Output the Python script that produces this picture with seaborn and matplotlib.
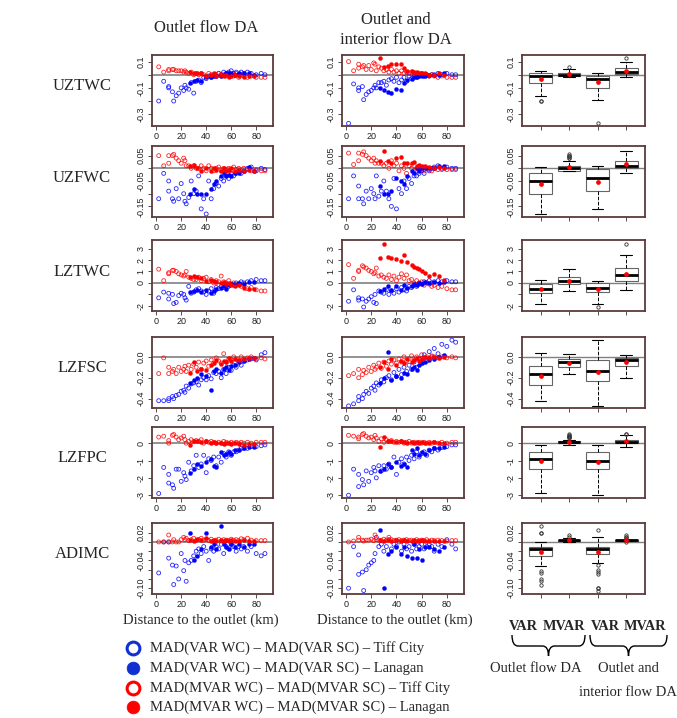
import numpy as np
import pandas as pd
import matplotlib
matplotlib.use("Agg")
import matplotlib.pyplot as plt
import seaborn as sns
from matplotlib.lines import Line2D
from matplotlib.path import Path
from matplotlib.patches import PathPatch

# ---------------- data ----------------
dist_tc = [2, 6, 10, 10, 13, 14, 16, 18, 20, 22,
           23, 24, 26, 28, 30, 32, 34, 36, 38, 40,
           42, 44, 46, 48, 50, 52, 54, 56, 58, 60,
           62, 64, 66, 68, 70, 73, 76, 80, 84, 87]
dist_lan = [27, 30, 33, 36, 40, 44, 46, 48, 52, 54, 56, 58, 60, 63, 66, 70, 74, 78]

row_labels = ["UZTWC", "UZFWC", "LZTWC", "LZFSC", "LZFPC", "ADIMC"]

# UZTWC
uztwc_out_var_tc = [-0.20, -0.05, -0.09, -0.10, -0.13, -0.20, -0.16, -0.14, -0.10, -0.12,
                    -0.08, -0.10, -0.11, -0.06, -0.14, -0.05, -0.04, -0.06, -0.02, -0.03,
                    -0.01, -0.02, 0.00, -0.01, 0.01, 0.00, 0.02, 0.01, 0.02, 0.03,
                    0.01, 0.02, 0.00, 0.02, 0.01, 0.02, 0.01, 0.00, 0.01, 0.00]
uztwc_out_var_lan = [-0.06, -0.05, -0.04, -0.05, -0.02, -0.02, -0.01, -0.01, -0.01, 0.00,
                     0.01, 0.01, 0.01, 0.00, 0.01, 0.01, 0.01, 0.00]
uztwc_out_mvar_tc = [0.06, 0.02, 0.03, 0.04, 0.04, 0.04, 0.03, 0.03, 0.03, 0.02,
                     0.03, 0.02, 0.01, 0.02, 0.00, 0.01, 0.00, 0.01, 0.00, -0.01,
                     0.01, 0.00, -0.01, 0.00, 0.01, -0.01, 0.00, -0.01, 0.01, 0.00,
                     -0.01, 0.01, -0.02, 0.00, -0.01, -0.02, -0.01, -0.02, -0.02, -0.02]
uztwc_out_mvar_lan = [0.02, 0.01, 0.01, 0.01, -0.01, 0.00, 0.01, -0.01, 0.00, -0.01,
                      0.00, -0.02, -0.01, 0.00, -0.01, -0.02, -0.01, -0.01]
uztwc_int_var_tc = [-0.37, -0.07, -0.10, -0.12, -0.09, -0.19, -0.15, -0.13, -0.12, -0.10,
                    -0.08, -0.10, -0.06, -0.06, -0.05, -0.08, -0.04, -0.03, -0.05, -0.02,
                    -0.06, -0.04, -0.02, -0.05, -0.01, -0.03, -0.01, -0.02, -0.01, 0.00,
                    -0.01, 0.00, -0.01, 0.00, 0.00, 0.01, 0.00, 0.01, 0.00, 0.00]
uztwc_int_var_lan = [-0.10, -0.12, -0.13, -0.14, -0.11, -0.12, -0.06, -0.04, -0.03, -0.02,
                     -0.02, -0.01, -0.01, -0.01, 0.00, 0.00, 0.00, 0.01]
uztwc_int_mvar_tc = [0.10, 0.03, 0.08, 0.05, 0.06, 0.07, 0.04, 0.07, 0.04, 0.09,
                     0.08, 0.03, 0.06, 0.05, 0.03, 0.04, 0.02, 0.04, 0.02, 0.03,
                     0.01, 0.03, 0.01, 0.02, 0.01, 0.02, 0.00, 0.01, 0.00, 0.01,
                     -0.01, 0.00, -0.01, 0.00, -0.01, -0.02, -0.01, -0.02, -0.02, -0.02]
uztwc_int_mvar_lan = [0.13, 0.06, 0.07, 0.08, 0.08, 0.08, 0.05, 0.03, 0.03, 0.02,
                      0.02, 0.01, 0.01, 0.01, 0.00, 0.00, 0.01, 0.00]

# UZFWC
uzfwc_out_var_tc = [-0.12, -0.02, -0.05, -0.09, -0.12, -0.13, -0.08, -0.12, -0.06, -0.10,
                    -0.13, -0.14, -0.115, -0.05, -0.10, -0.09, -0.03, -0.16, -0.12, -0.18,
                    -0.05, -0.12, -0.08, -0.06, -0.07, -0.04, -0.05, -0.03, -0.04, -0.02,
                    -0.03, -0.02, -0.01, -0.02, -0.01, 0.00, 0.005, -0.01, 0.00, -0.005]
uzfwc_out_var_lan = [-0.10, -0.08, -0.10, -0.10, -0.10, -0.08, -0.06, -0.05, -0.03, -0.02,
                     -0.03, -0.025, -0.03, -0.02, -0.02, -0.01, 0.005, -0.01]
uzfwc_out_mvar_tc = [0.05, 0.01, 0.05, 0.02, 0.05, 0.055, 0.04, 0.03, 0.02, 0.04,
                     0.03, 0.01, 0.01, 0.00, 0.01, 0.00, 0.00, 0.01, 0.00, -0.01,
                     0.01, 0.00, -0.01, 0.00, 0.005, -0.01, 0.00, -0.005, 0.00, -0.01,
                     0.005, -0.005, 0.00, -0.01, 0.00, -0.005, -0.01, -0.005, -0.01, -0.01]
uzfwc_out_mvar_lan = [0.01, 0.015, 0.00, -0.01, 0.00, -0.01, 0.00, -0.005, -0.01, 0.00,
                      -0.01, -0.005, 0.00, -0.01, -0.005, -0.01, -0.005, -0.01]
uzfwc_int_var_tc = [-0.12, -0.03, -0.07, -0.12, -0.12, -0.14, -0.09, -0.12, -0.08, -0.10,
                    -0.12, -0.03, -0.11, -0.09, -0.05, -0.09, -0.12, -0.15, -0.04, -0.16,
                    -0.08, -0.10, -0.05, -0.08, -0.04, -0.06, -0.03, -0.03, -0.02, -0.01,
                    -0.02, 0.00, -0.01, 0.00, 0.005, 0.01, 0.00, 0.005, 0.00, 0.00]
uzfwc_int_var_lan = [-0.07, -0.10, -0.10, -0.09, -0.04, -0.05, -0.06, -0.03, -0.01, -0.02,
                     0.00, -0.01, 0.00, 0.00, 0.00, 0.00, 0.01, 0.01]
uzfwc_int_mvar_tc = [0.06, 0.015, 0.06, 0.03, 0.055, 0.065, 0.05, 0.04, 0.03, 0.04,
                     0.02, 0.03, 0.02, 0.02, 0.01, 0.02, 0.00, 0.03, 0.01, 0.02,
                     -0.01, 0.01, 0.00, -0.02, 0.01, 0.00, -0.01, 0.00, -0.005, 0.00,
                     -0.01, 0.00, -0.005, -0.01, 0.00, -0.005, -0.005, -0.005, -0.005, -0.005]
uzfwc_int_mvar_lan = [0.03, 0.07, 0.03, 0.02, 0.04, 0.045, 0.02, 0.02, 0.02, 0.025,
                      0.01, 0.015, 0.01, 0.01, 0.005, 0.00, 0.005, 0.00]

# LZTWC
lztwc_out_var_tc = [-1.3, -0.8, -0.9, -1.4, -1.0, -1.8, -1.7, -1.1, -0.9, -1.0,
                    -1.3, -1.5, -0.3, -0.9, -0.8, -0.6, -0.5, -0.7, -0.8, -1.0,
                    -0.7, -0.5, -0.9, -0.4, -0.5, -0.3, -0.4, -0.2, -0.3, -0.1,
                    -0.2, 0.0, -0.1, 0.1, 0.0, 0.1, 0.2, 0.3, 0.2, 0.2]
lztwc_out_var_lan = [-0.8, -0.7, -0.6, -0.8, -0.6, -0.9, -0.7, -0.5, -0.4, -0.3,
                     -0.5, -0.2, -0.1, -0.2, 0.0, -0.1, 0.1, 0.1]
lztwc_out_mvar_tc = [1.2, 0.2, 0.9, 0.8, 1.1, 1.1, 1.0, 0.8, 0.7, 0.6,
                     0.7, 1.0, 0.5, 0.4, 0.3, 0.3, 0.5, 0.2, 0.4, 0.5,
                     0.1, 0.3, 0.0, 0.2, 0.1, 0.6, 0.1, 0.0, 0.2, -0.1,
                     0.0, -0.2, -0.1, -0.3, -0.2, -0.5, -0.4, -0.6, -0.7, -0.7]
lztwc_out_mvar_lan = [0.5, 0.6, 0.5, 0.4, 0.2, 0.3, 0.2, 0.1, 0.0, 0.1,
                      -0.1, 0.0, -0.2, -0.3, -0.2, -0.4, -0.5, -0.5]
lztwc_int_var_tc = [-1.6, -0.6, -1.3, -1.5, -1.4, -2.1, -1.6, -1.4, -1.2, -1.7,
                    -1.0, -1.8, -0.7, -0.8, -0.9, -0.6, -1.0, -0.7, -0.9, -0.5,
                    -0.8, -0.4, -0.6, -0.7, -0.3, -0.4, -0.2, -0.3, 0.0, -0.1,
                    0.1, 0.0, 0.2, 0.0, 0.1, 0.2, 0.1, 0.2, 0.1, 0.1]
lztwc_int_var_lan = [-0.7, -0.5, -0.3, -0.6, -0.3, -0.6, -0.2, -0.4, -0.3, -0.1,
                     -0.2, 0.0, -0.1, 0.1, 0.0, 0.1, 0.0, 0.1]
lztwc_int_mvar_tc = [1.6, 0.4, 1.1, 1.0, 1.5, 1.4, 1.3, 1.1, 1.0, 0.8,
                     0.9, 1.3, 0.6, 0.7, 0.5, 0.4, 0.7, 0.3, 0.6, 0.2,
                     0.5, 0.8, 0.4, 0.7, 0.2, 0.3, 0.0, 0.2, -0.1, 0.1,
                     -0.2, 0.0, -0.1, -0.3, -0.2, -0.4, -0.3, -0.5, -0.6, -0.6]
lztwc_int_mvar_lan = [2.2, 3.4, 2.3, 2.2, 2.1, 1.9, 2.4, 1.8, 1.6, 1.4,
                      1.3, 1.2, 1.0, 0.9, 0.6, 0.8, 0.6, 0.3]

# LZFSC
lzfsc_out_var_tc = [-0.42, -0.42, -0.42, -0.40, -0.38, -0.40, -0.37, -0.36, -0.33, -0.32,
                    -0.34, -0.28, -0.30, -0.26, -0.25, -0.24, -0.27, -0.22, -0.20, -0.22,
                    -0.18, -0.21, -0.15, -0.16, -0.14, -0.20, -0.12, -0.16, -0.10, -0.13,
                    -0.08, -0.10, -0.06, -0.08, -0.04, -0.03, -0.02, -0.03, 0.02, 0.04]
lzfsc_out_var_lan = [-0.25, -0.22, -0.20, -0.16, -0.18, -0.32, -0.14, -0.12, -0.15, -0.12,
                     -0.10, -0.13, -0.09, -0.08, -0.05, -0.04, -0.02, -0.01]
lzfsc_out_mvar_tc = [-0.16, -0.01, -0.16, -0.10, -0.14, -0.12, -0.16, -0.10, -0.14, -0.12,
                     -0.09, -0.14, -0.08, -0.12, -0.07, -0.10, -0.05, -0.12, -0.06, -0.04,
                     -0.09, -0.03, -0.06, -0.01, -0.04, -0.06, 0.03, -0.05, -0.02, -0.03,
                     0.00, -0.02, -0.04, 0.00, -0.02, -0.01, 0.00, -0.02, -0.01, -0.02]
lzfsc_out_mvar_lan = [-0.15, -0.05, -0.14, -0.12, -0.13, -0.08, -0.06, -0.03, -0.07, -0.04,
                      -0.05, -0.01, -0.04, -0.02, -0.03, -0.02, -0.01, -0.01]
lzfsc_int_var_tc = [-0.47, -0.45, -0.42, -0.38, -0.40, -0.36, -0.33, -0.35, -0.30, -0.28,
                    -0.32, -0.25, -0.27, -0.22, -0.24, -0.20, -0.18, -0.22, -0.15, -0.19,
                    -0.12, -0.17, -0.10, -0.14, -0.08, -0.12, -0.05, -0.10, -0.02, -0.06,
                    0.02, -0.04, 0.05, 0.00, 0.08, 0.03, 0.12, 0.10, 0.16, 0.14]
lzfsc_int_var_lan = [-0.25, -0.20, 0.05, -0.22, -0.18, -0.20, -0.15, -0.16, -0.12, -0.10,
                     -0.13, -0.08, -0.06, -0.05, -0.03, -0.02, 0.00, 0.02]
lzfsc_int_mvar_tc = [-0.18, -0.16, -0.20, -0.12, -0.17, -0.13, -0.15, -0.10, -0.14, -0.08,
                     -0.12, -0.10, -0.06, -0.11, -0.05, -0.09, -0.04, -0.07, -0.03, -0.06,
                     -0.02, -0.05, 0.00, -0.04, -0.02, 0.01, -0.03, 0.00, -0.02, 0.02,
                     -0.01, 0.00, -0.02, 0.01, 0.00, -0.01, 0.00, -0.01, 0.00, -0.01]
lzfsc_int_mvar_lan = [-0.10, -0.05, -0.12, -0.02, -0.08, -0.04, -0.06, -0.02, -0.05, -0.03,
                      -0.01, -0.04, -0.02, 0.00, -0.01, 0.00, -0.01, 0.00]

# LZFPC
lzfpc_out_var_tc = [-2.9, -1.4, -1.8, -2.3, -2.4, -2.6, -1.5, -1.5, -2.2, -1.7,
                    -1.9, -2.1, -1.1, -1.6, -1.3, -0.7, -1.4, -1.2, -0.7, -1.7,
                    -0.9, -1.0, -0.8, -1.3, -0.8, -1.1, -0.6, -0.8, -0.5, -0.7,
                    -0.5, -0.5, -0.4, -0.3, -0.3, -0.3, -0.2, -0.2, -0.15, -0.1]
lzfpc_out_var_lan = [-1.7, -1.5, -1.2, -1.3, -1.1, -0.9, -1.3, -1.4, -0.5, -0.7,
                     -0.6, -0.5, -0.6, -0.4, -0.4, -0.3, -0.2, -0.2]
lzfpc_out_mvar_tc = [0.35, 0.4, 0.15, 0.0, 0.45, 0.5, 0.35, 0.2, 0.3, 0.4,
                     0.2, 0.0, 0.1, 0.2, 0.1, 0.15, 0.1, 0.2, 0.0, 0.1,
                     0.05, 0.1, 0.05, 0.0, 0.05, 0.0, 0.1, 0.05, 0.0, 0.05,
                     0.0, 0.05, 0.0, 0.05, 0.0, 0.05, 0.0, 0.05, 0.05, 0.05]
lzfpc_out_mvar_lan = [-0.1, 0.1, 0.15, 0.05, 0.1, 0.0, 0.05, 0.0, 0.0, -0.05,
                      0.0, 0.0, -0.05, 0.0, -0.05, -0.1, -0.05, -0.05]
lzfpc_int_var_tc = [-3.0, -1.5, -1.8, -2.5, -2.1, -2.4, -1.6, -2.2, -1.7, -1.4,
                    -1.6, -2.0, -1.3, -1.6, -1.3, -1.5, -1.2, -1.4, -0.8, -1.8,
                    -1.1, -0.9, -1.2, -0.8, -1.0, -0.7, -0.9, -0.5, -0.8, -0.6,
                    -0.5, -0.7, -0.4, -0.5, -0.3, -0.4, -0.25, -0.2, -0.1, -0.1]
lzfpc_int_var_lan = [-1.6, -1.5, -1.2, -1.4, -1.1, -1.3, -1.2, -1.4, -0.4, -0.6,
                     -0.3, -0.7, -0.5, -0.6, -0.4, -0.3, -0.3, -0.2]
lzfpc_int_mvar_tc = [0.45, 0.4, 0.35, 0.25, 0.5, 0.55, 0.4, 0.3, 0.35, 0.2,
                     0.45, 0.3, 0.1, 0.25, 0.05, 0.2, 0.1, 0.15, 0.05, 0.1,
                     0.05, 0.1, 0.0, 0.05, 0.1, 0.0, 0.05, 0.0, 0.05, 0.0,
                     0.05, 0.0, 0.05, 0.0, 0.05, 0.0, 0.05, 0.0, 0.05, 0.05]
lzfpc_int_mvar_lan = [-0.2, 0.35, 0.1, 0.15, 0.05, 0.1, 0.05, 0.0, 0.05, 0.0,
                      0.05, 0.0, 0.05, 0.0, 0.0, 0.05, 0.0, 0.0]

# ADIMC
adimc_out_var_tc = [-0.067, 0.0, -0.035, 0.0, -0.05, -0.092, -0.052, -0.08, -0.025, -0.062,
                    -0.04, -0.085, -0.045, -0.04, -0.03, -0.02, -0.015, -0.025, -0.01, -0.02,
                    -0.04, -0.015, -0.02, -0.01, -0.015, -0.005, -0.025, -0.01, -0.015, -0.005,
                    -0.01, -0.02, -0.01, -0.015, -0.01, -0.02, -0.01, -0.025, -0.03, -0.025]
adimc_out_var_lan = [0.02, -0.04, -0.03, -0.015, 0.02, -0.01, -0.005, -0.015, 0.035, -0.005,
                     -0.01, -0.015, -0.005, -0.01, -0.005, -0.01, -0.005, -0.005]
adimc_out_mvar_tc = [0.0, 0.0, 0.0, 0.015, 0.0, 0.005, 0.0, 0.0, 0.005, 0.01,
                     0.005, 0.008, 0.003, 0.005, 0.008, 0.003, 0.005, 0.008, 0.004, 0.005,
                     0.003, 0.006, 0.002, 0.004, 0.006, 0.002, 0.005, 0.004, 0.003, 0.006,
                     0.004, 0.005, 0.003, 0.007, 0.005, 0.008, 0.004, 0.003, 0.003, 0.003]
adimc_out_mvar_lan = [0.005, 0.003, 0.006, 0.004, 0.008, 0.002, 0.004, 0.003, 0.005, 0.002,
                      0.004, 0.003, 0.005, 0.002, 0.003, 0.004, 0.002, 0.003]
adimc_int_var_tc = [-0.10, -0.01, -0.028, -0.07, -0.065, -0.105, -0.06, -0.05, -0.045, -0.04,
                    -0.025, 0.01, -0.01, -0.005, -0.02, -0.01, 0.005, -0.015, -0.005, -0.01,
                    0.0, -0.02, -0.005, -0.015, -0.01, -0.02, -0.005, -0.015, -0.01, -0.005,
                    -0.015, -0.01, -0.005, -0.01, -0.02, -0.005, -0.01, 0.005, -0.005, -0.015]
adimc_int_var_lan = [0.025, -0.10, -0.025, -0.02, -0.01, -0.025, -0.01, -0.03, -0.035, -0.005,
                     -0.035, -0.015, -0.04, -0.01, -0.01, -0.015, -0.02, -0.01]
adimc_int_mvar_tc = [0.0, 0.002, 0.01, 0.004, 0.004, 0.002, 0.004, 0.004, 0.006, 0.003,
                     0.015, 0.005, 0.004, 0.003, 0.006, 0.004, 0.01, 0.005, 0.003, 0.004,
                     0.005, 0.003, 0.004, 0.005, 0.003, 0.004, 0.002, 0.005, 0.003, 0.004,
                     0.003, 0.005, 0.002, 0.004, 0.003, 0.004, 0.003, 0.002, 0.003, 0.003]
adimc_int_mvar_lan = [0.004, 0.003, 0.005, 0.002, 0.004, 0.003, 0.004, 0.002, 0.003, 0.004,
                      0.002, 0.003, 0.004, 0.002, 0.003, 0.003, 0.002, 0.003]

# y-axis settings per row: limits, tick values, tick labels
row_ylims = [(-0.39, 0.15), (-0.192, 0.088), (-2.45, 3.75), (-0.49, 0.19), (-3.16, 0.93), (-0.1125, 0.041)]
row_yticks = [[-0.3, -0.2, -0.1, 0.0, 0.1],
              [-0.15, -0.10, -0.05, 0.0, 0.05],
              [-2, -1, 0, 1, 2, 3],
              [-0.4, -0.2, 0.0],
              [-3, -2, -1, 0],
              [-0.10, -0.08, -0.06, -0.04, -0.02, 0.0, 0.02]]
row_yticklabels = [["-0.3", "", "-0.1", "", "0.1"],
                   ["-0.15", "", "-0.05", "", "0.05"],
                   ["-2", "", "0", "1", "2", "3"],
                   ["-0.4", "-0.2", "0.0"],
                   ["-3", "-2", "-1", "0"],
                   ["-0.10", "", "", "-0.04", "", "", "0.02"]]
x_ticks = [0, 20, 40, 60, 80]
box_groups = ["VAR outlet", "MVAR outlet", "VAR interior", "MVAR interior"]

rows = [
    (uztwc_out_var_tc, uztwc_out_var_lan, uztwc_out_mvar_tc, uztwc_out_mvar_lan,
     uztwc_int_var_tc, uztwc_int_var_lan, uztwc_int_mvar_tc, uztwc_int_mvar_lan),
    (uzfwc_out_var_tc, uzfwc_out_var_lan, uzfwc_out_mvar_tc, uzfwc_out_mvar_lan,
     uzfwc_int_var_tc, uzfwc_int_var_lan, uzfwc_int_mvar_tc, uzfwc_int_mvar_lan),
    (lztwc_out_var_tc, lztwc_out_var_lan, lztwc_out_mvar_tc, lztwc_out_mvar_lan,
     lztwc_int_var_tc, lztwc_int_var_lan, lztwc_int_mvar_tc, lztwc_int_mvar_lan),
    (lzfsc_out_var_tc, lzfsc_out_var_lan, lzfsc_out_mvar_tc, lzfsc_out_mvar_lan,
     lzfsc_int_var_tc, lzfsc_int_var_lan, lzfsc_int_mvar_tc, lzfsc_int_mvar_lan),
    (lzfpc_out_var_tc, lzfpc_out_var_lan, lzfpc_out_mvar_tc, lzfpc_out_mvar_lan,
     lzfpc_int_var_tc, lzfpc_int_var_lan, lzfpc_int_mvar_tc, lzfpc_int_mvar_lan),
    (adimc_out_var_tc, adimc_out_var_lan, adimc_out_mvar_tc, adimc_out_mvar_lan,
     adimc_int_var_tc, adimc_int_var_lan, adimc_int_mvar_tc, adimc_int_mvar_lan),
]

# ---------------- style ----------------
sns.set_theme(style="ticks")
plt.rcParams["font.family"] = ["Liberation Sans", "DejaVu Sans"]
SERIF = ["Liberation Serif", "DejaVu Serif"]
BLUE = "#0000ff"
RED = "#ff0000"
FRAME = "#5a3a3a"
ZERO = "#808080"

W, H = 677, 718
fig = plt.figure(figsize=(W / 100, H / 100), dpi=100)


def ax_px(left, top, width, height):
    return fig.add_axes([left / W, 1 - (top + height) / H, width / W, height / H])


def fx(x):
    return x / W


def fy(y):
    return 1 - y / H


col_left = [151.7, 341.5, 521.7]
col_width = [121.5, 122.5, 123.3]
row_top = [55, 146, 240, 337, 427, 523]
row_h = 71


def style_axes(ax, r):
    for s in ax.spines.values():
        s.set_color(FRAME)
        s.set_linewidth(1.3)
        s.set_visible(True)
    ax.set_ylim(*row_ylims[r])
    ax.set_yticks(row_yticks[r])
    ax.set_yticklabels(row_yticklabels[r], rotation=90, va="center")
    ax.tick_params(axis="both", direction="out", length=3, width=0.6, color="#333333",
                   labelsize=6.5, pad=1.5, labelcolor="#222222")
    ax.set_xlabel("")
    ax.set_ylabel("")


def scatter_panel(ax, r, var_tc, var_lan, mvar_tc, mvar_lan):
    ax.axhline(0, color=ZERO, lw=1.2, zorder=1)
    common = dict(ax=ax, marker="o", legend=False)
    sns.scatterplot(x=dist_tc, y=var_tc, s=8, facecolor="none", edgecolor=BLUE,
                    linewidth=0.6, alpha=0.85, zorder=2, **common)
    sns.scatterplot(x=dist_tc, y=mvar_tc, s=8, facecolor="none", edgecolor=RED,
                    linewidth=0.6, alpha=0.85, zorder=3, **common)
    sns.scatterplot(x=dist_lan, y=var_lan, s=9, facecolor=BLUE, edgecolor=BLUE,
                    linewidth=0.2, zorder=4, **common)
    sns.scatterplot(x=dist_lan, y=mvar_lan, s=9, facecolor=RED, edgecolor=RED,
                    linewidth=0.2, zorder=5, **common)
    ax.set_xlim(-3.6, 93.6)
    ax.set_xticks(x_ticks)
    ax.set_xticklabels([str(v) for v in x_ticks])
    style_axes(ax, r)


def box_panel(ax, r, data):
    (ov_tc, ov_lan, om_tc, om_lan, iv_tc, iv_lan, im_tc, im_lan) = data
    vals = [ov_tc + ov_lan, om_tc + om_lan, iv_tc + iv_lan, im_tc + im_lan]
    df = pd.DataFrame({
        "group": np.repeat(box_groups, [len(v) for v in vals]),
        "value": np.concatenate(vals),
    })
    ax.axhline(0, color=ZERO, lw=1.0, zorder=0)
    sns.boxplot(data=df, x="group", y="value", order=box_groups, ax=ax, width=0.8,
                color="white", linecolor="#666666", linewidth=0.8, saturation=1,
                showmeans=True,
                meanprops=dict(marker="o", markerfacecolor=RED, markeredgecolor=RED,
                               markersize=2.4),
                medianprops=dict(color="black", linewidth=2.0),
                whiskerprops=dict(color="black", linestyle="--", linewidth=0.7),
                capprops=dict(color="black", linewidth=0.8),
                flierprops=dict(marker="o", markerfacecolor="none", markeredgecolor="#333333",
                                markersize=2.4, markeredgewidth=0.6))
    ax.set_xlim(-0.66, 3.66)
    ax.set_xticks([0, 1, 2, 3])
    ax.set_xticklabels(["", "", "", ""])
    style_axes(ax, r)


for r, data in enumerate(rows):
    top = row_top[r]
    ax1 = ax_px(col_left[0], top, col_width[0], row_h)
    scatter_panel(ax1, r, data[0], data[1], data[2], data[3])
    ax2 = ax_px(col_left[1], top, col_width[1], row_h)
    scatter_panel(ax2, r, data[4], data[5], data[6], data[7])
    ax3 = ax_px(col_left[2], top, col_width[2], row_h)
    box_panel(ax3, r, data)
    fig.text(fx(82), fy(top + row_h / 2 - 4), row_labels[r], family=SERIF, fontsize=12,
             ha="center", va="center")

# column titles
fig.text(fx(206), fy(28), "Outlet flow DA", family=SERIF, fontsize=12, ha="center", va="center")
fig.text(fx(396), fy(30), "Outlet and\ninterior flow DA", family=SERIF, fontsize=12,
         ha="center", va="center", linespacing=1.25)

# x-axis labels
fig.text(fx(201), fy(620), "Distance to the outlet (km)", family=SERIF, fontsize=10.5,
         ha="center", va="center")
fig.text(fx(395), fy(620), "Distance to the outlet (km)", family=SERIF, fontsize=10.5,
         ha="center", va="center")

# legend
legend_items = [
    ("MAD(VAR WC) \u2013 MAD(VAR SC) \u2013 Tiff City", "#1030d0", False),
    ("MAD(VAR WC) \u2013 MAD(VAR SC) \u2013 Lanagan", "#1030d0", True),
    ("MAD(MVAR WC) \u2013 MAD(MVAR SC) \u2013 Tiff City", RED, False),
    ("MAD(MVAR WC) \u2013 MAD(MVAR SC) \u2013 Lanagan", RED, True),
]
for i, (txt, c, filled) in enumerate(legend_items):
    y = 648 + i * 19.8
    fig.add_artist(Line2D([fx(133)], [fy(y)], marker="o", markersize=9.2,
                          markerfacecolor=c if filled else "white", markeredgecolor=c,
                          markeredgewidth=2.2 if not filled else 0.5, transform=fig.transFigure))
    fig.text(fx(150), fy(y), txt, family=SERIF, fontsize=10.5, ha="left", va="center")

# VAR / MVAR labels under boxplots
for xc, t in zip([523, 564, 605, 645], ["VAR", "MVAR", "VAR", "MVAR"]):
    fig.text(fx(xc), fy(627), t, family=SERIF, fontsize=10.3, fontweight="bold",
             ha="center", va="center")


def brace(x0, x1, ytop, ymid, ytip):
    xc = (x0 + x1) / 2
    pts = [(x0, ytop), (x0, ymid), (x0 + 6, ymid),
           (xc - 6, ymid), (xc, ymid), (xc, ytip),
           (xc, ymid), (xc + 6, ymid),
           (x1 - 6, ymid), (x1, ymid), (x1, ytop)]
    codes = [Path.MOVETO, Path.CURVE3, Path.CURVE3,
             Path.LINETO, Path.CURVE3, Path.CURVE3,
             Path.CURVE3, Path.CURVE3,
             Path.LINETO, Path.CURVE3, Path.CURVE3]
    verts = [(fx(x), fy(y)) for x, y in pts]
    fig.add_artist(PathPatch(Path(verts, codes), facecolor="none", edgecolor="black",
                             lw=1.0, transform=fig.transFigure))


brace(512, 585, 635, 646, 656)
brace(590, 667, 635, 646, 656)

fig.text(fx(536), fy(668), "Outlet flow DA", family=SERIF, fontsize=10.5, ha="center", va="center")
fig.text(fx(628), fy(668), "Outlet and", family=SERIF, fontsize=10.5, ha="center", va="center")
fig.text(fx(628), fy(692), "interior flow DA", family=SERIF, fontsize=10.5, ha="center", va="center")

fig.savefig("out.png", dpi=100, facecolor="white")
